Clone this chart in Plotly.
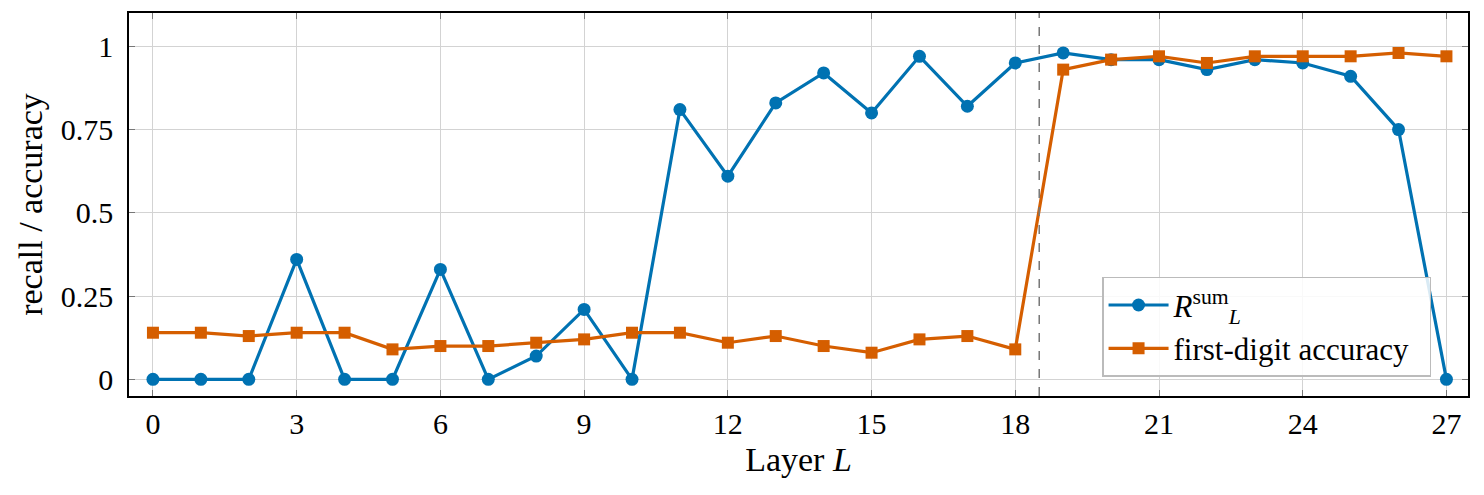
import plotly.graph_objects as go

layers = list(range(28))
recall_sum = [0, 0, 0, 0.36, 0, 0, 0.33, 0, 0.07, 0.21, 0, 0.81, 0.61, 0.83, 0.92, 0.80,
              0.97, 0.82, 0.95, 0.98, 0.96, 0.96, 0.93, 0.96, 0.95, 0.91, 0.75, 0]
first_digit_acc = [0.14, 0.14, 0.13, 0.14, 0.14, 0.09, 0.10, 0.10, 0.11, 0.12, 0.14, 0.14,
                   0.11, 0.13, 0.10, 0.08, 0.12, 0.13, 0.09, 0.93, 0.96, 0.97, 0.95, 0.97,
                   0.97, 0.97, 0.98, 0.97]
x_ticks = [0, 3, 6, 9, 12, 15, 18, 21, 24, 27]
y_ticks = [0, 0.25, 0.5, 0.75, 1]
y_tick_labels = ["0", "0.25", "0.5", "0.75", "1"]
split_layer = 18.5

BLUE = "#0072B2"
ORANGE = "#D55E00"
FONT = "Liberation Serif"

fig = go.Figure()
fig.add_trace(go.Scatter(
    x=layers, y=recall_sum, mode="lines+markers",
    name="<i>R</i><sup>sum</sup><sub><i>L</i></sub>",
    line=dict(color=BLUE, width=3.2),
    marker=dict(symbol="circle", size=13, color=BLUE),
))
fig.add_trace(go.Scatter(
    x=layers, y=first_digit_acc, mode="lines+markers",
    name="first-digit accuracy&nbsp;&nbsp;",
    line=dict(color=ORANGE, width=3.2),
    marker=dict(symbol="square", size=12, color=ORANGE),
))
fig.add_vline(x=split_layer, line=dict(color="#777777", width=1.5, dash="dash"))

fig.update_layout(
    width=1484, height=495,
    margin=dict(l=129, r=16, t=13, b=99),
    paper_bgcolor="white", plot_bgcolor="white",
    font=dict(family=FONT, size=28, color="black"),
    showlegend=True,
    legend=dict(
        x=0.7267, y=0.05, xanchor="left", yanchor="bottom",
        bgcolor="rgba(255,255,255,0.85)", bordercolor="#bbbbbb", borderwidth=1.5,
        font=dict(family=FONT, size=31),
        itemwidth=60, tracegroupgap=0,
    ),
)
fig.update_xaxes(
    range=[-0.5, 27.45], tickvals=x_ticks,
    showgrid=True, gridcolor="#d3d3d3", gridwidth=1,
    showline=True, linecolor="black", linewidth=1.5, mirror="allticks",
    ticks="inside", ticklen=6, tickcolor="#777777",
    tickfont=dict(size=30), zeroline=False,
    title=dict(text="Layer <i>L</i>", font=dict(size=34), standoff=8),
)
fig.update_yaxes(
    range=[-0.05, 1.1], tickvals=y_ticks, ticktext=y_tick_labels,
    showgrid=True, gridcolor="#d3d3d3", gridwidth=1,
    showline=True, linecolor="black", linewidth=1.5, mirror="allticks",
    ticks="inside", ticklen=6, tickcolor="#777777",
    tickfont=dict(size=30), zeroline=False, ticklabelstandoff=8,
    title=dict(text="recall / accuracy", font=dict(size=34), standoff=8),
)

fig.write_html("out.html")
